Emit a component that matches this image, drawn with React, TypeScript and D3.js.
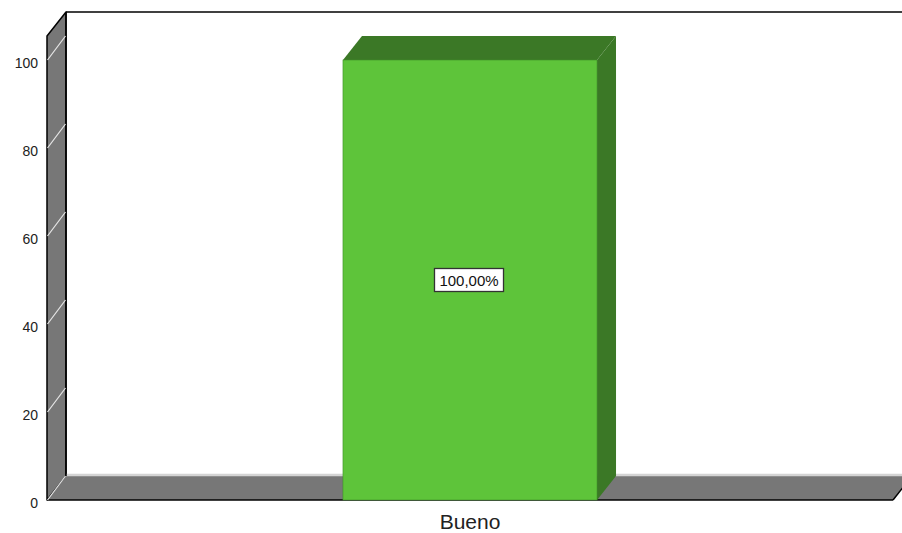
import React from "react";
import * as d3 from "d3";

// Chart data
const categories: string[] = ["Bueno"];
const percentValues: number[] = [100];
const barLabels: string[] = ["100,00%"];
const yTicks: number[] = [0, 20, 40, 60, 80, 100];

const W = 902;
const H = 533;
// front plane of the 3D box
const X0 = 47;
const X1 = 893;
const Y0 = 500;
const Y1 = 60;
// depth offset of the back plane
const DX = 19;
const DY = -24;

const WALL = "#777777";
const FRONT = "#5ec43a";
const SIDE = "#3b7826";

export default function App() {
  const y = d3.scaleLinear().domain([0, 100]).range([Y0, Y1]);
  const x = d3
    .scaleBand<string>()
    .domain(categories)
    .range([X0, X1])
    .paddingInner(0)
    .paddingOuter(1.165);

  const pts = (p: [number, number][]) => p.map((q) => q.join(",")).join(" ");
  const wallTop = Y0 - 464;

  return (
    <svg
      width={W}
      height={H}
      style={{ position: "absolute", left: 0, top: 0, background: "#fff" }}
      fontFamily="'Liberation Sans', Arial, sans-serif"
    >
      {/* back wall */}
      <rect x={X0 + DX} y={wallTop + DY} width={W} height={Y0 - wallTop} fill="#fff" />
      <line x1={X0 + DX} y1={wallTop + DY} x2={W + 20} y2={wallTop + DY} stroke="#000" strokeWidth={1.5} />

      {/* left wall */}
      <polygon
        points={pts([
          [X0, wallTop],
          [X0 + DX, wallTop + DY],
          [X0 + DX, Y0 + DY],
          [X0, Y0],
        ])}
        fill={WALL}
        stroke="#000"
        strokeWidth={1.5}
        strokeLinejoin="round"
      />

      {/* floor */}
      <polygon
        points={pts([
          [X0, Y0],
          [X0 + DX, Y0 + DY],
          [X1 + DX, Y0 + DY],
          [X1, Y0],
        ])}
        fill={WALL}
      />
      <line x1={X0 + DX} y1={Y0 + DY - 1} x2={X1 + DX + 20} y2={Y0 + DY - 1} stroke="#d4d4d4" strokeWidth={2.5} />
      <line x1={X0} y1={Y0} x2={X1} y2={Y0} stroke="#000" strokeWidth={1.5} />
      <line x1={X1} y1={Y0} x2={X1 + DX} y2={Y0 + DY} stroke="#000" strokeWidth={1.5} />
      <line x1={X0 + DX} y1={wallTop + DY} x2={X0 + DX} y2={Y0 + DY} stroke="#000" strokeWidth={1.5} />

      {/* gridlines on left wall */}
      {yTicks.map((t) => (
        <line
          key={"g" + t}
          x1={X0 + 0.5}
          y1={y(t)}
          x2={X0 + DX - 0.5}
          y2={y(t) + DY}
          stroke="#e6e6e6"
          strokeWidth={1.2}
        />
      ))}

      {/* tick labels */}
      {yTicks.map((t) => (
        <text
          key={"t" + t}
          x={X0 - 9}
          y={y(t) + 3}
          dy="0.35em"
          textAnchor="end"
          fontSize={14}
          fill="#222"
        >
          {t}
        </text>
      ))}

      {/* bars */}
      {categories.map((c, i) => {
        const bx = x(c) as number;
        const bw = x.bandwidth();
        const top = y(percentValues[i]);
        return (
          <g key={c}>
            <polygon
              points={pts([
                [bx, top],
                [bx + DX, top + DY],
                [bx + bw + DX, top + DY],
                [bx + bw, top],
              ])}
              fill={SIDE}
            />
            <polygon
              points={pts([
                [bx + bw, top],
                [bx + bw + DX, top + DY],
                [bx + bw + DX, Y0 + DY],
                [bx + bw, Y0],
              ])}
              fill={SIDE}
            />
            <rect x={bx} y={top} width={bw} height={Y0 - top} fill={FRONT} stroke="#3f8f28" strokeWidth={0.6} />
            <g transform={`translate(${bx + bw / 2 - 1},${y(percentValues[i] / 2) + 0.5})`}>
              <rect x={-34.5} y={-12} width={69} height={23} fill="#fff" stroke="#333" strokeWidth={1.3} />
              <text x={0} y={0} dy="0.36em" textAnchor="middle" fontSize={15} fill="#111">
                {barLabels[i]}
              </text>
            </g>
            <text x={bx + bw / 2} y={Y0 + 29} textAnchor="middle" fontSize={21} fill="#222">
              {c}
            </text>
          </g>
        );
      })}
    </svg>
  );
}
